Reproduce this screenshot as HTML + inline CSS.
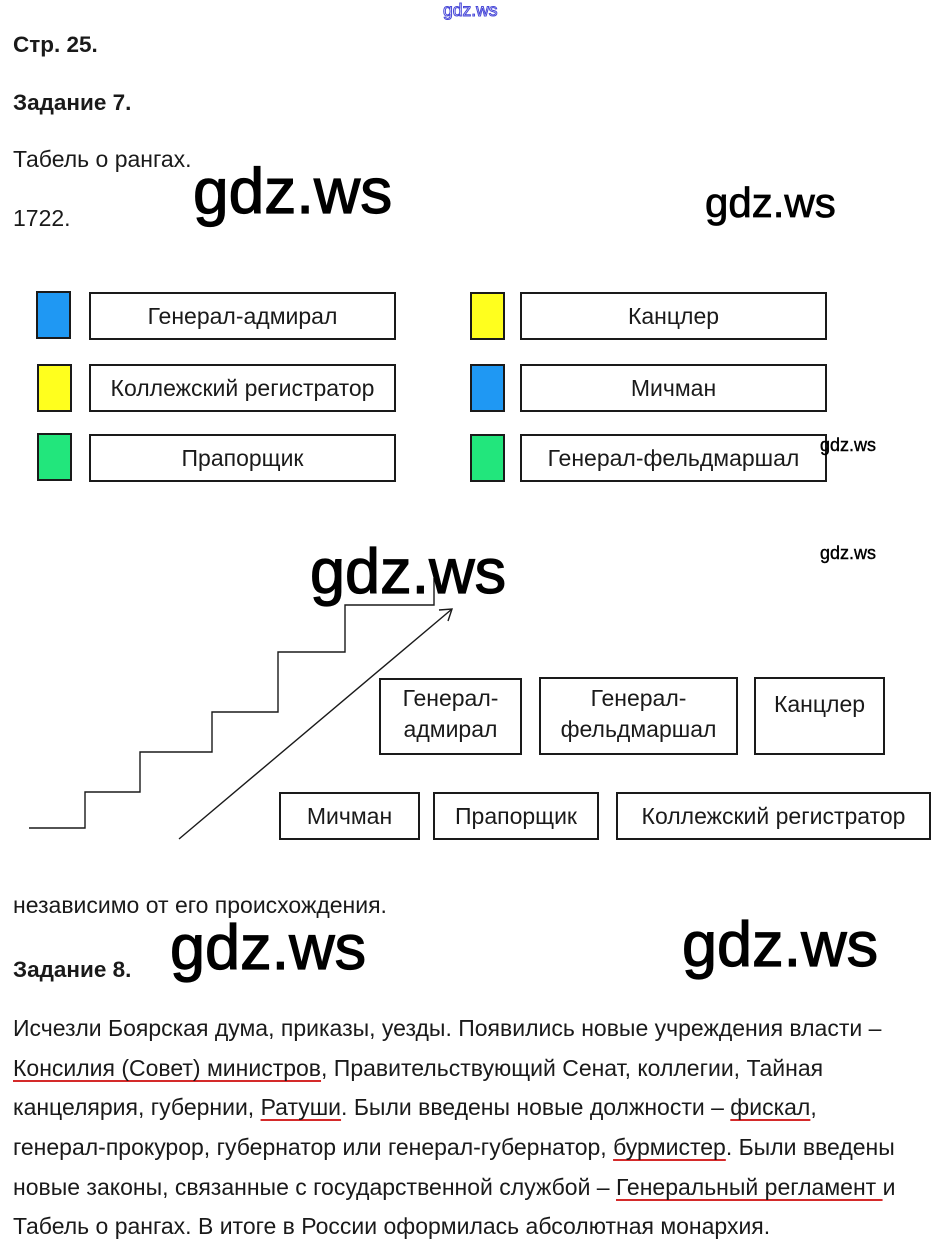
<!DOCTYPE html>
<html><head><meta charset="utf-8">
<style>
html,body{margin:0;padding:0;background:#fff;}
body{width:940px;height:1253px;position:relative;overflow:hidden;font-family:"Liberation Sans",Arial,sans-serif;color:#1a1a1a;}
.t{position:absolute;font-size:23px;line-height:23px;white-space:nowrap;}
.b{font-weight:bold;font-size:22.5px;}
.wm{position:absolute;font-family:"Liberation Sans",sans-serif;color:#000;white-space:nowrap;line-height:1;}
.sq{position:absolute;box-sizing:border-box;border:2px solid #1a1a1a;width:35px;height:48px;}
.bx{position:absolute;box-sizing:border-box;border:2px solid #1a1a1a;background:#fff;display:flex;align-items:center;justify-content:center;font-size:23px;line-height:23px;white-space:nowrap;}
.ob{position:absolute;box-sizing:border-box;border:2px solid #1a1a1a;background:#fff;}
.u{text-decoration:underline;text-decoration-color:#d42a2a;text-decoration-thickness:2px;text-underline-offset:4px;text-decoration-skip-ink:none;}
</style></head><body>

<div class="wm" style="left:443px;top:2px;font-size:17.5px;color:#fff;-webkit-text-stroke:1px #4848d8;">gdz.ws</div>

<div class="t b" style="left:13px;top:33px;">Стр. 25.</div>
<div class="t b" style="left:13px;top:91px;">Задание 7.</div>
<div class="t" style="left:13px;top:148px;">Табель о рангах.</div>
<div class="t" style="left:13px;top:207px;">1722.</div>

<div class="wm" style="left:193px;top:159px;font-size:64px;-webkit-text-stroke:1.2px #000;">gdz.ws</div>
<div class="wm" style="left:705px;top:182px;font-size:42px;-webkit-text-stroke:0.8px #000;">gdz.ws</div>

<!-- left column -->
<div class="sq" style="left:36px;top:291px;background:#1f98f3;"></div>
<div class="bx" style="left:89px;top:292px;width:307px;height:48px;">Генерал-адмирал</div>
<div class="sq" style="left:37px;top:364px;background:#ffff1e;"></div>
<div class="bx" style="left:89px;top:364px;width:307px;height:48px;">Коллежский регистратор</div>
<div class="sq" style="left:37px;top:433px;background:#22e67c;"></div>
<div class="bx" style="left:89px;top:434px;width:307px;height:48px;">Прапорщик</div>

<!-- right column -->
<div class="sq" style="left:470px;top:292px;background:#ffff1e;"></div>
<div class="bx" style="left:520px;top:292px;width:307px;height:48px;">Канцлер</div>
<div class="sq" style="left:470px;top:364px;background:#1f98f3;"></div>
<div class="bx" style="left:520px;top:364px;width:307px;height:48px;">Мичман</div>
<div class="sq" style="left:470px;top:434px;background:#22e67c;"></div>
<div class="bx" style="left:520px;top:434px;width:307px;height:48px;">Генерал-фельдмаршал</div>

<div class="wm" style="left:820px;top:436px;font-size:18px;-webkit-text-stroke:0.4px #000;">gdz.ws</div>
<div class="wm" style="left:820px;top:544px;font-size:18px;-webkit-text-stroke:0.4px #000;">gdz.ws</div>

<!-- staircase -->
<svg style="position:absolute;left:0;top:0;" width="940" height="1253" viewBox="0 0 940 1253">
<polyline points="29,828 85,828 85,792 140,792 140,752 212,752 212,712 278,712 278,652 345,652 345,605 434,605 434,578" fill="none" stroke="#1a1a1a" stroke-width="1.4"/>
<line x1="179" y1="839" x2="452" y2="609" stroke="#1a1a1a" stroke-width="1.4"/>
<polyline points="439,610 452,609 448,621" fill="none" stroke="#1a1a1a" stroke-width="1.4"/>
</svg>

<div class="wm" style="left:310px;top:541px;font-size:63px;-webkit-text-stroke:1.2px #000;">gdz.ws</div>

<div class="ob" style="left:379px;top:678px;width:143px;height:77px;"></div>
<div class="t" style="left:379px;width:143px;text-align:center;top:687px;">Генерал-</div>
<div class="t" style="left:379px;width:143px;text-align:center;top:718px;">адмирал</div>

<div class="ob" style="left:539px;top:677px;width:199px;height:78px;"></div>
<div class="t" style="left:539px;width:199px;text-align:center;top:687px;">Генерал-</div>
<div class="t" style="left:539px;width:199px;text-align:center;top:718px;">фельдмаршал</div>

<div class="ob" style="left:754px;top:677px;width:131px;height:78px;"></div>
<div class="t" style="left:754px;width:131px;text-align:center;top:693px;">Канцлер</div>

<div class="bx" style="left:279px;top:792px;width:141px;height:48px;">Мичман</div>
<div class="bx" style="left:433px;top:792px;width:166px;height:48px;">Прапорщик</div>
<div class="bx" style="left:616px;top:792px;width:315px;height:48px;">Коллежский регистратор</div>

<div class="t" style="left:13px;top:894px;">независимо от его происхождения.</div>
<div class="t b" style="left:13px;top:958px;">Задание 8.</div>

<div class="wm" style="left:170px;top:917px;font-size:63px;-webkit-text-stroke:1.2px #000;">gdz.ws</div>
<div class="wm" style="left:682px;top:914px;font-size:63px;-webkit-text-stroke:1.2px #000;">gdz.ws</div>

<div class="t" style="left:13px;top:1017px;">Исчезли Боярская дума, приказы, уезды. Появились новые учреждения власти –</div>
<div class="t" style="left:13px;top:1057px;"><span class="u">Консилия (Совет) министров</span>, Правительствующий Сенат, коллегии, Тайная</div>
<div class="t" style="left:13px;top:1096px;">канцелярия, губернии, <span class="u">Ратуши</span>. Были введены новые должности – <span class="u">фискал</span>,</div>
<div class="t" style="left:13px;top:1136px;">генерал-прокурор, губернатор или генерал-губернатор, <span class="u">бурмистер</span>. Были введены</div>
<div class="t" style="left:13px;top:1176px;">новые законы, связанные с государственной службой – <span class="u">Генеральный регламент </span>и</div>
<div class="t" style="left:13px;top:1215px;">Табель о рангах. В итоге в России оформилась абсолютная монархия.</div>

</body></html>
